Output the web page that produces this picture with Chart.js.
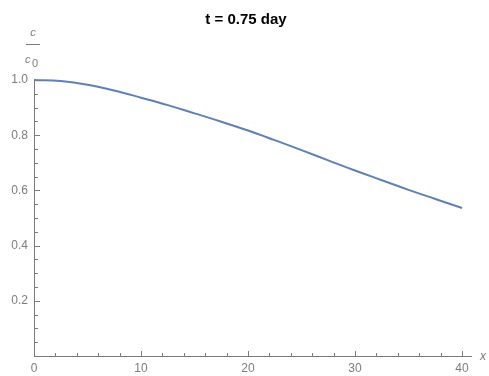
<!DOCTYPE html>
<html>
<head>
<meta charset="utf-8">
<script src="https://cdn.jsdelivr.net/npm/chart.js@4"></script>
<style>
  html, body { margin: 0; padding: 0; background: #fff; }
  #wrap { width: 489px; height: 376px; }
</style>
</head>
<body>
<div id="wrap"><canvas id="c" width="489" height="376"></canvas></div>
<script>
const xValues = [0, 2.5, 5, 7.5, 10, 12.5, 15, 17.5, 20, 22.5, 25, 27.5, 30, 32.5, 35, 37.5, 40];
const ratioValues = [1.0, 0.996, 0.983, 0.962, 0.936, 0.909, 0.879, 0.849, 0.817, 0.782, 0.746, 0.709, 0.672, 0.637, 0.602, 0.569, 0.536];
const xMajorTicks = [0, 10, 20, 30, 40];
const yMajorTicks = [0.2, 0.4, 0.6, 0.8, 1.0];
const xMinorStep = 2;
const yMinorStep = 0.05;
const titleText = 't = 0.75 day';
const xAxisLabel = 'x';

const AXIS = '#7a7a7a';
const LABEL = '#7c7c7c';
const FONT = '"Liberation Sans", Arial, sans-serif';

const axesPlugin = {
  id: 'mmaAxes',
  afterDatasetsDraw(chart) {
    const ctx = chart.ctx;
    const xs = chart.scales.x, ys = chart.scales.y;
    const x0 = xs.getPixelForValue(0), y0 = ys.getPixelForValue(0);
    ctx.save();
    ctx.strokeStyle = AXIS;
    ctx.lineWidth = 1;
    ctx.beginPath();
    ctx.moveTo(xs.left, Math.round(y0) + 0.5);
    ctx.lineTo(xs.right, Math.round(y0) + 0.5);
    ctx.moveTo(Math.round(x0) + 0.5, ys.getPixelForValue(yMajorTicks[yMajorTicks.length - 1]));
    ctx.lineTo(Math.round(x0) + 0.5, y0);
    ctx.stroke();
    ctx.beginPath();
    const xMax = xMajorTicks[xMajorTicks.length - 1];
    for (let i = 1; i * xMinorStep <= xMax + 1e-9; i++) {
      const v = i * xMinorStep;
      const major = xMajorTicks.some(t => Math.abs(t - v) < 1e-9);
      const px = Math.round(xs.getPixelForValue(v)) + 0.5;
      ctx.moveTo(px, Math.round(y0));
      ctx.lineTo(px, Math.round(y0) - (major ? 5 : 3));
    }
    const yMax = yMajorTicks[yMajorTicks.length - 1];
    for (let i = 1; i * yMinorStep <= yMax + 1e-9; i++) {
      const v = i * yMinorStep;
      const major = yMajorTicks.some(t => Math.abs(t - v) < 1e-9);
      const py = Math.round(ys.getPixelForValue(v)) + 0.5;
      ctx.moveTo(Math.round(x0) + 1, py);
      ctx.lineTo(Math.round(x0) + 1 + (major ? 5 : 3), py);
    }
    ctx.stroke();

    ctx.fillStyle = '#000';
    ctx.font = 'bold 15px ' + FONT;
    ctx.textAlign = 'center';
    ctx.textBaseline = 'middle';
    ctx.fillText(titleText, 246, 20);

    ctx.fillStyle = LABEL;
    ctx.font = 'italic 11px ' + FONT;
    ctx.textAlign = 'center';
    ctx.textBaseline = 'alphabetic';
    ctx.fillText('c', 33, 36);
    ctx.strokeStyle = LABEL;
    ctx.beginPath();
    ctx.moveTo(26, 44.5);
    ctx.lineTo(40, 44.5);
    ctx.stroke();
    ctx.textAlign = 'left';
    ctx.fillText('c', 25, 63);
    ctx.font = '11px ' + FONT;
    ctx.fillText('0', 32, 67);

    ctx.font = 'italic 12px ' + FONT;
    ctx.textAlign = 'left';
    ctx.textBaseline = 'middle';
    ctx.fillText(xAxisLabel, 480, 357);
    ctx.restore();
  }
};

new Chart(document.getElementById('c'), {
  type: 'line',
  data: {
    datasets: [{
      data: xValues.map((x, i) => ({ x: x, y: ratioValues[i] })),
      borderColor: '#5e81b5',
      borderWidth: 2,
      pointRadius: 0,
      fill: false,
      tension: 0.4,
      clip: false
    }]
  },
  options: {
    responsive: false,
    animation: false,
    events: [],
    layout: { padding: { left: 0, right: 17, top: 80, bottom: 0 } },
    plugins: { legend: { display: false }, title: { display: false }, tooltip: { enabled: false } },
    scales: {
      x: {
        type: 'linear',
        min: 0,
        max: 40.93,
        grid: { display: false, drawTicks: false },
        border: { display: false },
        afterBuildTicks: s => { s.ticks = xMajorTicks.map(v => ({ value: v })); },
        afterFit: s => { s.height = 20; },
        ticks: { color: LABEL, font: { family: FONT, size: 12 }, padding: 5, maxRotation: 0 }
      },
      y: {
        type: 'linear',
        min: 0,
        max: 1.0,
        grid: { display: false, drawTicks: false },
        border: { display: false },
        afterBuildTicks: s => { s.ticks = yMajorTicks.map(v => ({ value: v })); },
        afterFit: s => { s.width = 34; },
        ticks: { color: LABEL, font: { family: FONT, size: 12 }, padding: 6, callback: v => v.toFixed(1) }
      }
    }
  },
  plugins: [axesPlugin]
});
</script>
</body>
</html>
